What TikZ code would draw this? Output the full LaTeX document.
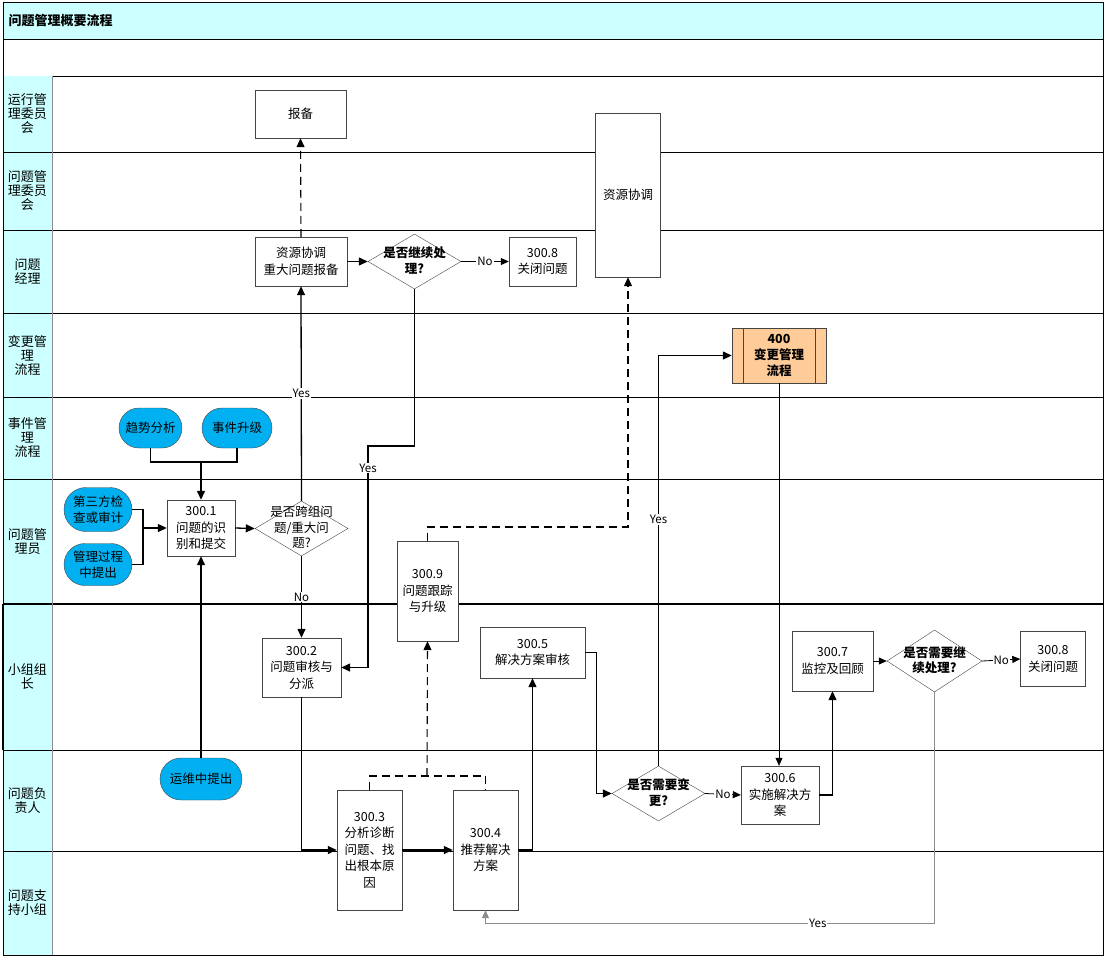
\documentclass[tikz,border=0pt]{standalone}
\usepackage{fontspec}
\setmainfont{Noto Sans CJK SC}
\usetikzlibrary{arrows.meta,shapes.geometric,shapes.misc}
\definecolor{PMCyan}{HTML}{CCFFFF}
\definecolor{PMBlue}{HTML}{00B0F0}
\definecolor{PMOrange}{HTML}{FFCC99}
\definecolor{PMEdge}{HTML}{454545}
\definecolor{PMGray}{HTML}{8C8C8C}
\newcommand{\dlab}[1]{\makebox[0pt]{\raisebox{-.3em}[0pt][0pt]{\begin{tabular}{@{}c@{}}#1\end{tabular}}}}
\tikzset{proc/.style={draw=PMEdge,fill=white,align=center,inner sep=1pt,font=\fontsize{12.5}{16.5}\selectfont}, term/.style={rounded rectangle,draw=PMEdge,fill=PMBlue,align=center,inner sep=1pt,font=\fontsize{12.5}{15.5}\selectfont}, sub/.style={proc,fill=PMOrange,font=\bfseries\fontsize{12.5}{16}\selectfont,path picture={\draw[PMEdge] ([xshift=11pt]path picture bounding box.north west) -- ([xshift=11pt]path picture bounding box.south west) ([xshift=-11pt]path picture bounding box.north east) -- ([xshift=-11pt]path picture bounding box.south east);}}, decide/.style={diamond,draw=PMEdge,fill=white,inner sep=0pt,minimum width=93pt,minimum height=55pt,font=\fontsize{12.5}{15.5}\selectfont}, flow/.style={-{Triangle[length=9pt,width=8pt]},line width=1.3pt}, thinflow/.style={-{Triangle[length=8pt,width=7pt]},line width=.8pt}, dflow/.style={-{Triangle[length=9pt,width=8pt]},line width=1.1pt,dash pattern=on 8pt off 5pt}, yn/.style={fill=white,inner sep=1pt,font=\fontsize{11.5}{12}\selectfont}, lanehd/.style={align=center,font=\fontsize{13}{14}\selectfont}, sep/.style={line width=1pt}}

\begin{document}
\begin{tikzpicture}[x=1pt,y=-1pt]
\useasboundingbox (0,0) rectangle (1107,959);
\fill[white] (0,0) rectangle (1107,959);
\draw[fill=PMCyan,sep] (3,2) rectangle (1103,39);\draw[sep] (3,39) rectangle (1103,76);\fill[PMCyan] (3,76) rectangle (52,955);
\node[anchor=west,font=\bfseries\fontsize{13}{14}\selectfont] (title) at (5,20.5) {问题管理概要流程};
\foreach \ya/\yb/\txt [count=\i] in {76/152/{运行管\\理委员\\会},152/230/{问题管\\理委员\\会},230/313/{问题\\经理},313/397/{变更管\\理\\流程},397/479/{事件管\\理\\流程},479/604/{问题管\\理员},604/750/{小组组\\长},750/851/{问题负\\责人},851/955/{问题支\\持小组}}
  {\node[lanehd] (hd\i) at (27.5,{(\ya+\yb)/2}) {\txt};\draw[sep] (3,\yb) -- (1103,\yb);}
\draw[line width=1.6pt] (3,604) -- (1103,604);\draw[PMGray,line width=1pt] (52,76) -- (52,955);\draw[line width=1.6pt] (3,604) -- (3,750);
\draw[sep] (3,2) rectangle (1103,955);
\node[proc,minimum width=91pt,minimum height=48pt] (report) at (300.5,114) {报备};\node[proc,minimum width=65pt,minimum height=164pt] (res) at (628,195) {资源协调};
\node[proc,minimum width=92pt,minimum height=49pt] (major) at (301,261.5) {资源协调\\重大问题报备};\node[decide,font=\bfseries\fontsize{12.5}{15.5}\selectfont] (cont) at (414.5,261.5) {\dlab{是否继续处\\理?}};\node[proc,minimum width=67pt,minimum height=49pt] (close1) at (542.5,261.5) {300.8\\关闭问题};
\node[sub,minimum width=94pt,minimum height=55pt] (chg) at (779,355.5) {400\\变更管理\\流程};
\node[term,minimum width=65pt,minimum height=40pt] (trend) at (150.5,428) {趋势分析};\node[term,minimum width=72pt,minimum height=40pt] (escal) at (237,428) {事件升级};
\node[term,minimum width=70pt,minimum height=44pt] (third) at (98,509.5) {第三方检\\查或审计};\node[term,minimum width=70pt,minimum height=42pt] (mgmt) at (98,564.5) {管理过程\\中提出};
\node[proc,minimum width=68pt,minimum height=56pt] (ident) at (201,528) {300.1\\问题的识\\别和提交};\node[decide] (cross) at (301.5,528.5) {\dlab{是否跨组问\\题/重大问\\题?}};
\node[proc,minimum width=61pt,minimum height=100pt] (track) at (427.5,591) {300.9\\问题跟踪\\与升级};
\node[proc,minimum width=79pt,minimum height=59pt] (audit) at (301.5,667.5) {300.2\\问题审核与\\分派};\node[proc,minimum width=105pt,minimum height=51pt] (rev) at (532.5,652.5) {300.5\\解决方案审核};
\node[proc,minimum width=81pt,minimum height=60pt] (mon) at (832.5,661) {300.7\\监控及回顾};\node[decide,minimum width=95pt,minimum height=62pt,font=\bfseries\fontsize{12.5}{15.5}\selectfont] (cont2) at (934.5,661) {\dlab{是否需要继\\续处理?}};\node[proc,minimum width=65pt,minimum height=55pt] (close2) at (1053,659) {300.8\\关闭问题};
\node[term,minimum width=84pt,minimum height=42pt] (ops) at (201,779) {运维中提出};
\node[decide,font=\bfseries\fontsize{12.5}{15.5}\selectfont] (chgq) at (658.5,793.5) {\dlab{是否需要变\\更?}};\node[proc,minimum width=78pt,minimum height=58pt] (impl) at (780,795) {300.6\\实施解决方\\案};
\node[proc,minimum width=65pt,minimum height=120pt] (diag) at (369.5,850) {300.3\\分析诊断\\问题、找\\出根本原\\因};\node[proc,minimum width=65pt,minimum height=120pt] (rec) at (485.5,850) {300.4\\推荐解决\\方案};
\coordinate (j1) at (201,462);\coordinate (j2) at (143,528);\coordinate (k1) at (368,446);\coordinate (k2) at (427,776);\coordinate (k3) at (628,527);\coordinate (k4) at (485.5,923);
\draw[line width=1.3pt] (trend.south) |- (j1);\draw[line width=1.3pt] (escal.south) |- (j1);\draw[flow] (j1) -- (ident.north);
\draw[line width=1.3pt] (third.east) -| (j2);\draw[line width=1.3pt] (mgmt.east) -| (j2);\draw[flow] (j2) -- (ident.west);
\draw[flow] (ops.north) -- (ident.south);\draw[flow] (ident.east) -- (cross.west);
\draw[flow] (cross.north) -- node[yn]{Yes} (major.south);\draw[dflow] (major.north) -- (report.south);
\draw[flow] (major.east) -- (cont.west);\draw[thinflow] (cont.east) -- node[yn]{No} (close1.west);
\draw[flow] (cont.south) |- (k1) |- node[yn,pos=.05]{Yes} (audit.east);\draw[flow] (cross.south) -- node[yn]{No} (audit.north);
\draw[flow] (audit.south) |- (diag.west);\draw[flow] (diag.east) -- (rec.west);\draw[flow] (rec.east) -| (rev.south);
\draw[line width=1.1pt,dash pattern=on 8pt off 5pt] (diag.north) |- (k2) -| (rec.north);\draw[dflow] (k2) -- (track.south);
\draw[dflow] (track.north) |- (k3) -- (res.south);
\draw[flow] (rev.east) -- ++(11,0) |- (chgq.west);\draw[flow] (chgq.north) |- node[yn,pos=.3]{Yes} (chg.west);
\draw[thinflow] (chgq.east) -- node[yn]{No} (impl.west);\draw[thinflow] (chg.south) -- (chg.south |- impl.north);
\draw[flow] (impl.east) -| (mon.south);\draw[thinflow] (mon.east) -- (cont2.west);\draw[thinflow] (cont2.east) -- node[yn]{No} (close2.west);
\draw[thinflow,PMGray] (cont2.south) |- node[yn,pos=.63,text=black]{Yes} (k4) -- (rec.south);
\end{tikzpicture}
\end{document}
